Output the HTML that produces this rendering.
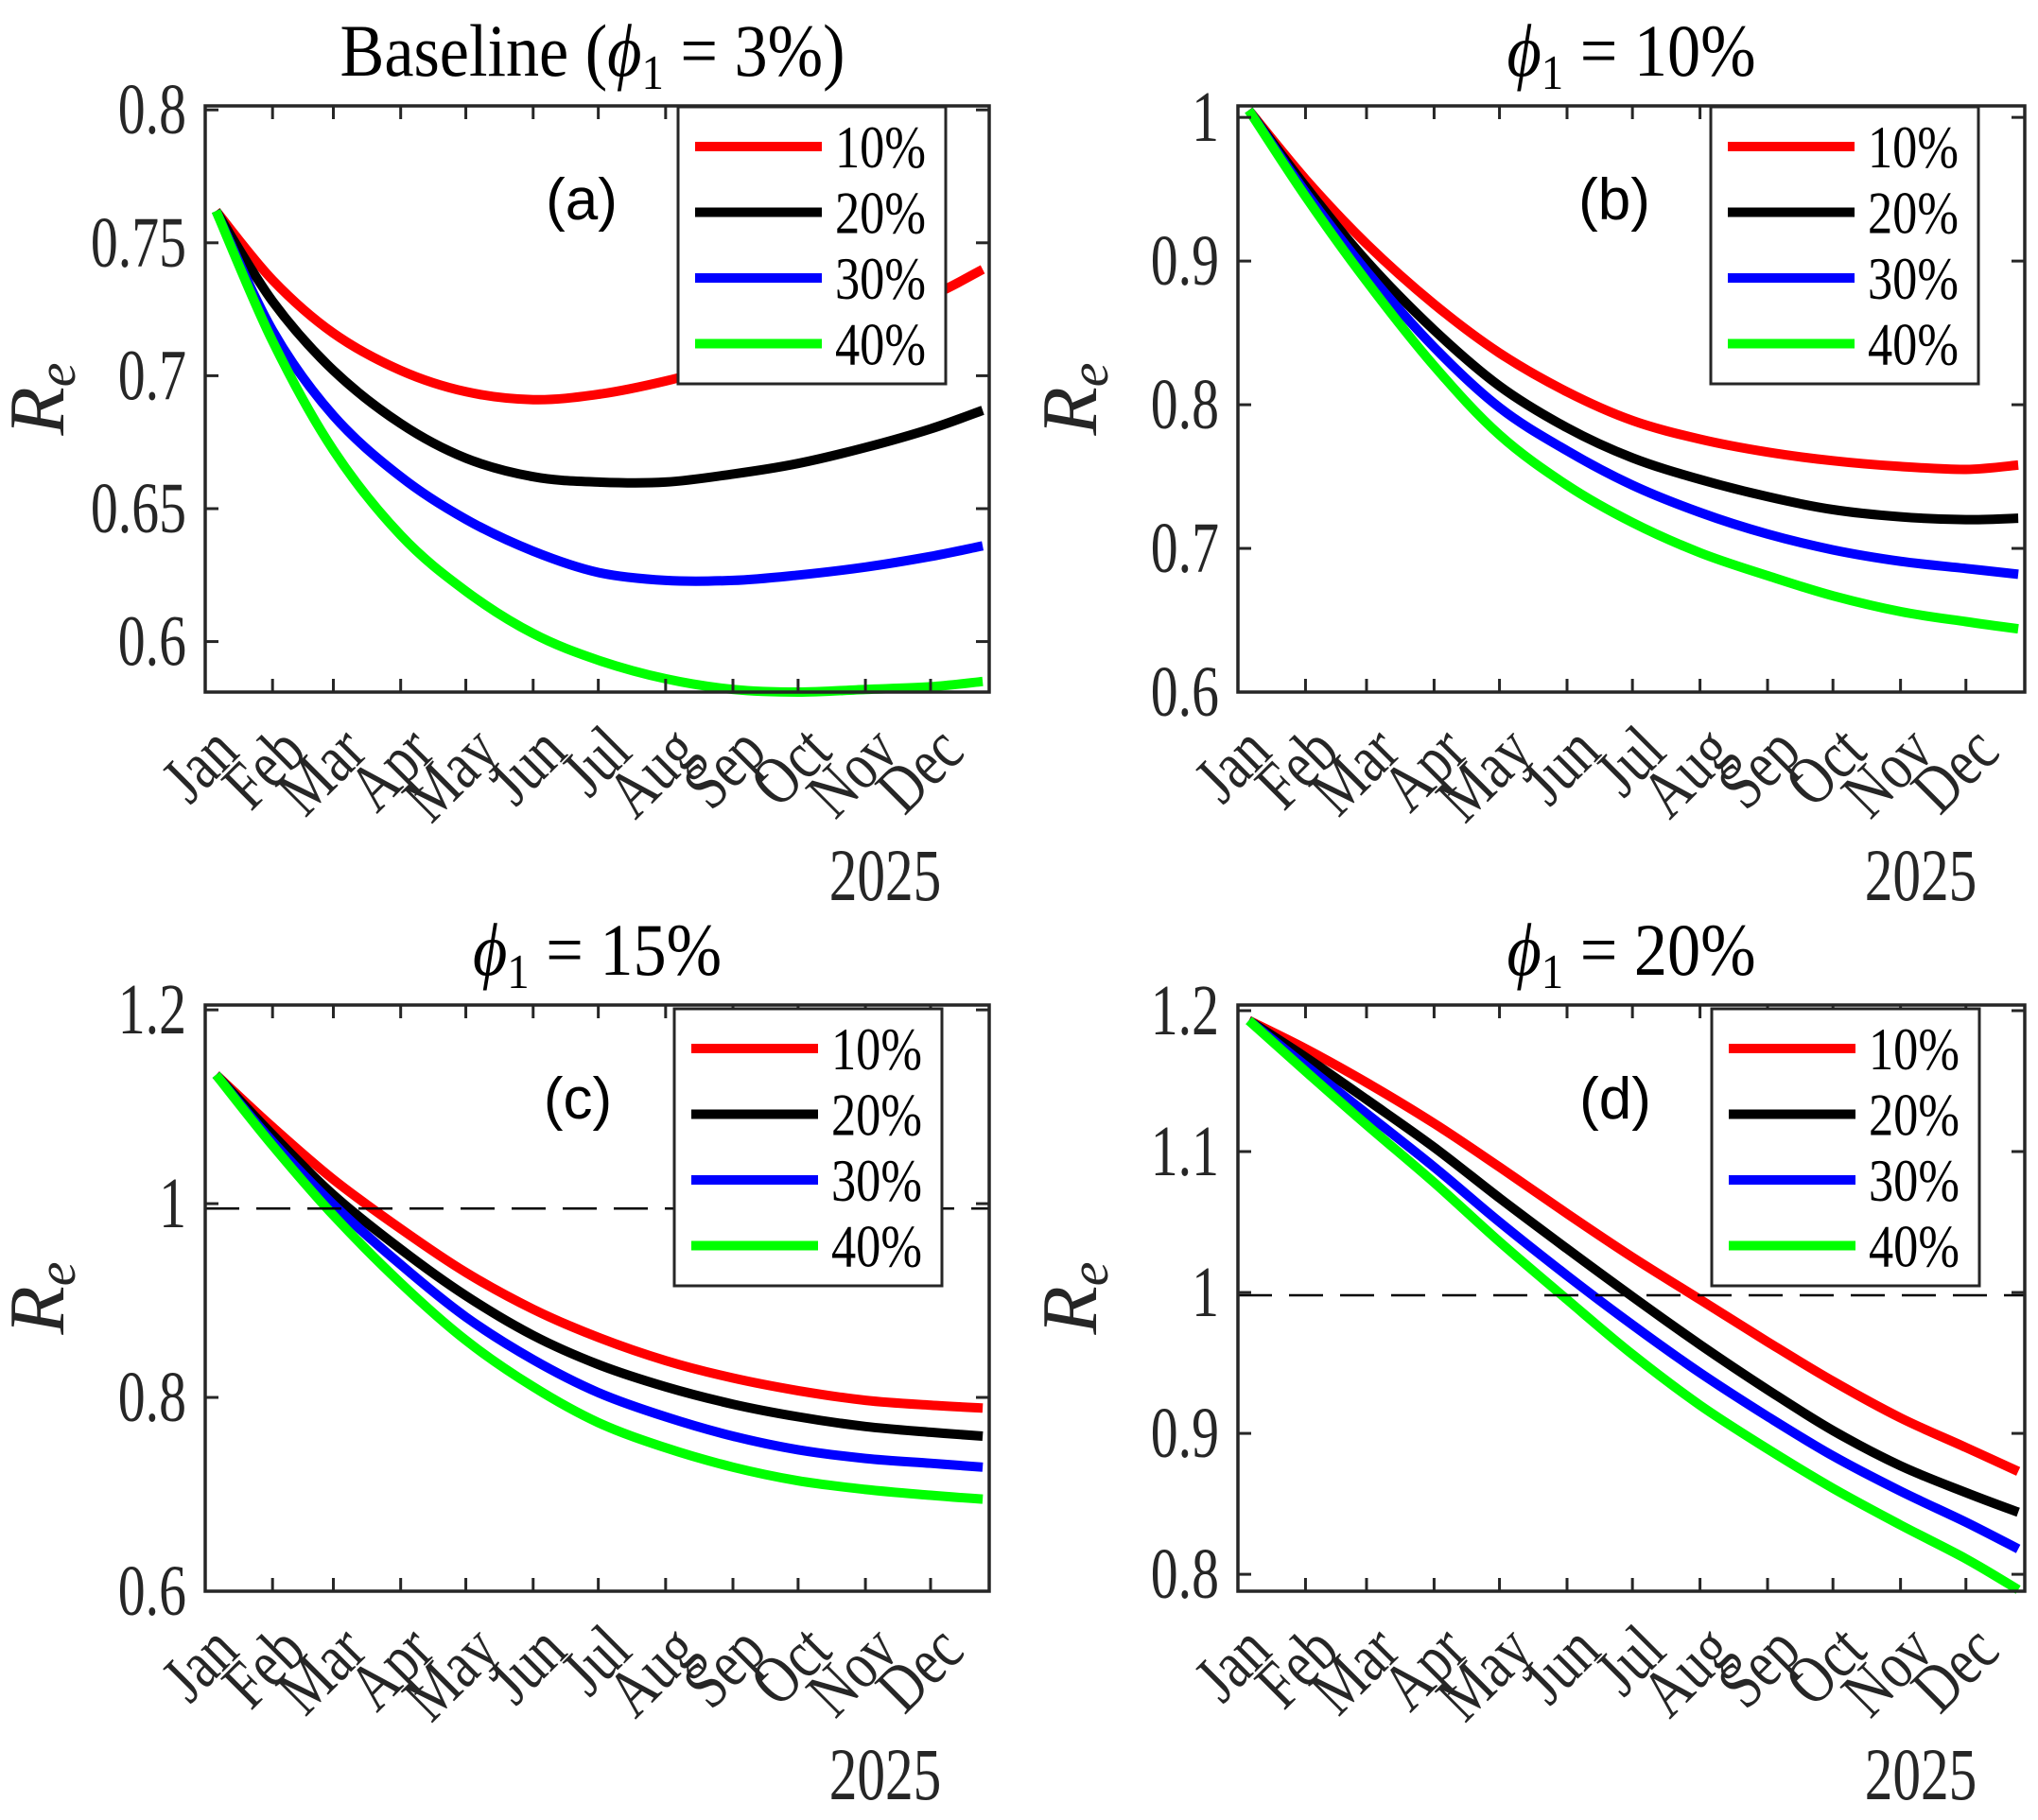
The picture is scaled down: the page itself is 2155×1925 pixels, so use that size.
<!DOCTYPE html>
<html><head><meta charset="utf-8"><style>
html,body{margin:0;padding:0;background:#fff;}
svg{display:block;font-family:"Liberation Serif",serif;}
</style></head><body>
<svg id="chart" width="2155" height="1925" viewBox="0 0 2155 1925" xmlns="http://www.w3.org/2000/svg"></svg>
<script>
// ---- data ----
const months = ["Jan","Feb","Mar","Apr","May","Jun","Jul","Aug","Sep","Oct","Nov","Dec"];
const monthStartDays = [0,31,59,90,120,151,181,212,243,273,304,334];
const sampleDays = [5,31,59,90,120,151,181,212,243,273,304,334,358];
const seriesNames = ["10%","20%","30%","40%"];
const seriesColors = ["#ff0000","#000000","#0000ff","#00ff00"];

const aRed   = [0.762,0.736,0.716,0.702,0.694,0.691,0.693,0.698,0.705,0.713,0.722,0.730,0.740];
const aBlack = [0.762,0.728,0.702,0.682,0.669,0.662,0.660,0.660,0.663,0.667,0.673,0.680,0.687];
const aBlue  = [0.762,0.717,0.685,0.662,0.646,0.634,0.626,0.623,0.623,0.625,0.628,0.632,0.636];
const aGreen = [0.762,0.713,0.672,0.640,0.619,0.603,0.593,0.586,0.582,0.581,0.582,0.583,0.585];

const bRed   = [1.005,0.957,0.912,0.870,0.836,0.809,0.789,0.776,0.767,0.761,0.757,0.755,0.758];
const bBlack = [1.005,0.952,0.900,0.852,0.813,0.784,0.763,0.748,0.736,0.727,0.722,0.720,0.721];
const bBlue  = [1.005,0.948,0.893,0.840,0.798,0.768,0.744,0.725,0.710,0.699,0.691,0.686,0.682];
const bGreen = [1.005,0.945,0.886,0.827,0.779,0.744,0.718,0.697,0.681,0.667,0.656,0.649,0.644];

const cRed   = [1.133,1.079,1.025,0.974,0.929,0.891,0.862,0.838,0.820,0.807,0.797,0.792,0.789];
const cBlack = [1.133,1.071,1.009,0.953,0.905,0.864,0.834,0.811,0.793,0.780,0.770,0.764,0.760];
const cBlue  = [1.133,1.064,0.999,0.937,0.883,0.839,0.805,0.780,0.760,0.746,0.737,0.732,0.728];
const cGreen = [1.133,1.060,0.988,0.918,0.859,0.811,0.774,0.748,0.728,0.714,0.705,0.699,0.695];

const dRed   = [1.193,1.173,1.149,1.120,1.089,1.056,1.025,0.995,0.965,0.937,0.911,0.890,0.873];
const dBlack = [1.193,1.167,1.137,1.103,1.067,1.031,0.997,0.963,0.931,0.902,0.877,0.858,0.844];
const dBlue  = [1.193,1.161,1.127,1.089,1.050,1.012,0.977,0.943,0.912,0.884,0.859,0.837,0.818];
const dGreen = [1.193,1.157,1.119,1.078,1.036,0.995,0.956,0.920,0.889,0.861,0.835,0.811,0.789];

const aTicks = [0.6,0.65,0.7,0.75,0.8];
const aTickLabels = ["0.6","0.65","0.7","0.75","0.8"];
const bTicks = [0.6,0.7,0.8,0.9,1];
const bTickLabels = ["0.6","0.7","0.8","0.9","1"];
const cTicks = [0.6,0.8,1,1.2];
const cTickLabels = ["0.6","0.8","1","1.2"];
const dTicks = [0.8,0.9,1,1.1,1.2];
const dTickLabels = ["0.8","0.9","1","1.1","1.2"];

const panels = [
  {id:"a", phi:"3%", base:true, x0:217,x1:1046,y0:112,y1:732, ymin:0.581,ymax:0.8015, ticks:aTicks, labels:aTickLabels, series:[aRed,aBlack,aBlue,aGreen], dash:null, lx:717, ly:113},
  {id:"b", phi:"10%", x0:1309,x1:2141,y0:112,y1:732, ymin:0.6,ymax:1.008, ticks:bTicks, labels:bTickLabels, series:[bRed,bBlack,bBlue,bGreen], dash:null, lx:1809, ly:113},
  {id:"c", phi:"15%", x0:217,x1:1046,y0:1063,y1:1683, ymin:0.6,ymax:1.205, ticks:cTicks, labels:cTickLabels, series:[cRed,cBlack,cBlue,cGreen], dash:0.995, lx:713, ly:1067},
  {id:"d", phi:"20%", x0:1309,x1:2141,y0:1063,y1:1683, ymin:0.788,ymax:1.204, ticks:dTicks, labels:dTickLabels, series:[dRed,dBlack,dBlue,dGreen], dash:0.998, lx:1810, ly:1067}
];
const dayMax = 361;
const ink = "#262626";
const NS = "http://www.w3.org/2000/svg";
const svg = document.getElementById("chart");
function mk(tag, attrs, parent){ const e=document.createElementNS(NS,tag); for(const k in attrs) e.setAttribute(k,attrs[k]); (parent||svg).appendChild(e); return e; }

function catmull(pts){
  let d = "M"+pts[0][0].toFixed(1)+","+pts[0][1].toFixed(1);
  for(let i=0;i<pts.length-1;i++){
    const p0=pts[Math.max(i-1,0)], p1=pts[i], p2=pts[i+1], p3=pts[Math.min(i+2,pts.length-1)];
    const c1=[p1[0]+(p2[0]-p0[0])/6, p1[1]+(p2[1]-p0[1])/6];
    const c2=[p2[0]-(p3[0]-p1[0])/6, p2[1]-(p3[1]-p1[1])/6];
    d += " C"+c1[0].toFixed(1)+","+c1[1].toFixed(1)+" "+c2[0].toFixed(1)+","+c2[1].toFixed(1)+" "+p2[0].toFixed(1)+","+p2[1].toFixed(1);
  }
  return d;
}

panels.forEach(p=>{
  const g = mk("g",{});
  
  
  const xs = d => p.x0 + (p.x1-p.x0)*d/dayMax;
  const ys = v => p.y1 - (p.y1-p.y0)*(v-p.ymin)/(p.ymax-p.ymin);
  const cx = (p.x0+p.x1)/2;

  const t = mk("text",{x:0, y:0, "font-size":78, "text-anchor":"middle", fill:"#000", transform:"translate("+(cx+(p.base?-5:0))+","+(p.y0-32)+") scale(0.9,1)"}, g);
  
  
  t.innerHTML = (p.base? "Baseline (":"") + '<tspan font-style="italic">ϕ</tspan><tspan font-size="52" dy="14">1</tspan><tspan dy="-14"> = '+p.phi+'</tspan>' + (p.base?")":"");

  p.series.forEach((s,si)=>{
    const pts = s.map((v,i)=>[xs(sampleDays[i]), ys(v)]);
    const path = mk("path",{d:catmull(pts), fill:"none", stroke:seriesColors[si], "stroke-width":10, "stroke-linejoin":"round"}, g);
    
    
  });

  if(p.dash!==null){
    const dl = mk("line",{x1:p.x0, x2:p.x1, y1:ys(p.dash), y2:ys(p.dash), stroke:"#000", "stroke-width":2.5, "stroke-dasharray":"36,18"}, g);
    
    
  }

  const box = mk("rect",{x:p.x0, y:p.y0, width:p.x1-p.x0, height:p.y1-p.y0, fill:"none", stroke:ink, "stroke-width":3.5}, g);
  
  

  p.ticks.forEach((v,i)=>{
    const y = ys(v);
    mk("line",{x1:p.x0,x2:p.x0+14,y1:y,y2:y,stroke:ink,"stroke-width":3},g);
    mk("line",{x1:p.x1-14,x2:p.x1,y1:y,y2:y,stroke:ink,"stroke-width":3},g);
    const tl = mk("text",{x:0, y:0, "font-size":76, "text-anchor":"end", fill:ink, transform:"translate("+(p.x0-20)+","+(y+25)+") scale(0.76,1)"}, g);
    
    
    tl.textContent = p.labels[i];
  });
  monthStartDays.forEach((d,i)=>{
    const x = xs(d);
    if(i>0){
      mk("line",{x1:x,x2:x,y1:p.y1,y2:p.y1-14,stroke:ink,"stroke-width":3},g);
      mk("line",{x1:x,x2:x,y1:p.y0,y2:p.y0+14,stroke:ink,"stroke-width":3},g);
    }
    const xl = mk("text",{x:0,y:0,"font-size":72,"text-anchor":"end",fill:ink,transform:"translate("+(x+38)+","+(p.y1+66)+") rotate(-45) scale(0.8,1)"},g);
    
    
    xl.textContent = months[i];
  });
  const yr = mk("text",{x:0,y:0,"font-size":78,"text-anchor":"middle",fill:ink,transform:"translate("+(p.x1-110)+","+(p.y1+220)+") scale(0.76,1)"},g);
  
  
  yr.textContent = "2025";

  const yl = mk("text",{x:0,y:0,"font-size":84,"font-style":"italic","text-anchor":"middle",fill:ink,transform:"translate("+(p.x0-150)+","+((p.y0+p.y1)/2)+") rotate(-90)"},g);
  
  
  yl.innerHTML = 'R<tspan font-size="58" dy="12">e</tspan>';

  const pl = mk("text",{x:p.lx-102, y:p.y0+120, "font-size":62, "font-family":"Liberation Sans, sans-serif", "text-anchor":"middle", fill:"#000"}, g);
  
  
  pl.textContent = "("+p.id+")";

  const lg = mk("g",{},g);
  
  
  mk("rect",{x:p.lx,y:p.ly,width:283,height:293,fill:"#fff",stroke:ink,"stroke-width":3},lg);
  seriesNames.forEach((n,i)=>{
    const ry = p.ly + 42 + i*69.5;
    const e = mk("g",{},lg);
    
    
    mk("line",{x1:p.lx+18,x2:p.lx+152,y1:ry,y2:ry,stroke:seriesColors[i],"stroke-width":10},e);
    const lt = mk("text",{x:p.lx+166,y:ry+22,"font-size":64,fill:"#000",textLength:96,lengthAdjust:"spacingAndGlyphs"},e);
    lt.textContent = n;
  });
});
</script>
</body></html>
